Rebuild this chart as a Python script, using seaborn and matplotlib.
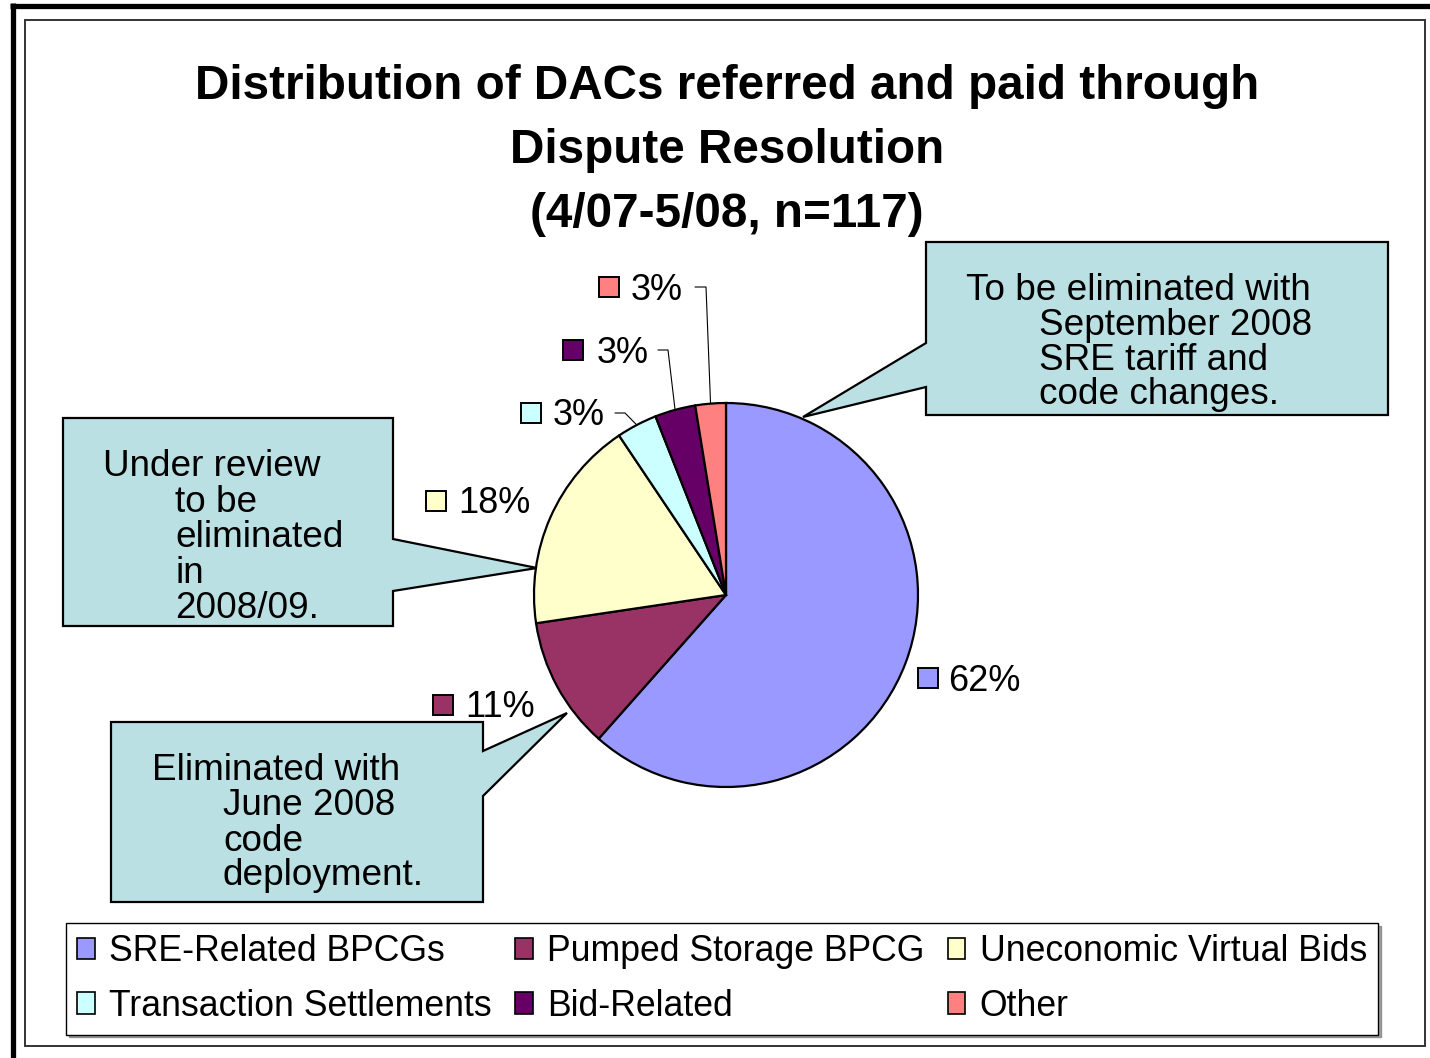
import numpy as np
import matplotlib
matplotlib.use("Agg")
import matplotlib.pyplot as plt
from matplotlib.patches import Polygon, Rectangle, Patch
import seaborn as sns

# data: DACs referred and paid through dispute resolution, n=117
categories = ["SRE-Related BPCGs", "Pumped Storage BPCG", "Uneconomic Virtual Bids",
              "Transaction Settlements", "Bid-Related", "Other"]
counts = [72, 13, 21, 4, 4, 3]
colors = ["#9999FF", "#993366", "#FFFFCC", "#CCFFFF", "#660066", "#FF8080"]

title_lines = ["Distribution of DACs referred and paid through",
               "Dispute Resolution",
               "(4/07-5/08, n=117)"]

# label layout in pixels: square centre x, square centre y, text x, baseline, leader elbow x (None = no leader)
label_layout = [
    (928, 678, 948, 691, None),
    (443, 705, 465, 717, None),
    (436, 501, 458, 513, None),
    (531, 413, 553, 425, (615, 625)),
    (573, 350, 597, 363, (658, 668)),
    (609, 287, 631, 300, (695, 706)),
]

callouts = [
    # polygon outline, text lines (x, baseline, text)
    ([(926, 242), (1388, 242), (1388, 415), (926, 415), (926, 387), (803, 417), (926, 343)],
     [(966, 300, "To be eliminated with"), (1039, 335, "September 2008"),
      (1039, 370, "SRE tariff and"), (1039, 404, "code changes.")]),
    ([(63, 418), (393, 418), (393, 539), (537, 568), (393, 591), (393, 626), (63, 626)],
     [(103, 476, "Under review"), (175, 512, "to be"), (175, 547, "eliminated"),
      (175, 583, "in"), (175, 618, "2008/09.")]),
    ([(111, 722), (483, 722), (483, 751), (567, 713), (483, 796), (483, 902), (111, 902)],
     [(152, 780, "Eliminated with"), (223, 815, "June 2008"),
      (223, 851, "code"), (223, 885, "deployment.")]),
]

sns.set_theme(style="white")
plt.rcParams["font.family"] = ["Liberation Sans", "DejaVu Sans"]
plt.rcParams["text.color"] = "black"

W, H = 1430, 1058
fig = plt.figure(figsize=(W / 100, H / 100), dpi=100)
fig.patch.set_facecolor("white")

# full-figure pixel axes for frame, callouts and labels
ax = fig.add_axes([0, 0, 1, 1])
ax.set_xlim(0, W)
ax.set_ylim(H, 0)
ax.axis("off")

# outer thick border (top/left) and inner thin frame
ax.plot([10, W], [5.5, 5.5], color="black", lw=3.8, solid_capstyle="butt")
ax.plot([12.5, 12.5], [3, H], color="black", lw=3.8, solid_capstyle="butt")
ax.add_patch(Rectangle((25, 20), 1400, 1026, fill=False, edgecolor="#333333", lw=1.4))

for i, line in enumerate(title_lines):
    ax.text(727, 99 + 64 * i, line, ha="center", va="baseline",
            fontsize=34.3, fontweight="bold", color="black")

# pie axes
cx, cy, r = 726, 595, 192
ax_pie = fig.add_axes([(cx - r) / W, (H - cy - r) / H, 2 * r / W, 2 * r / H])
wedges, _ = ax_pie.pie(counts, colors=colors, startangle=90, counterclock=False,
                       wedgeprops=dict(edgecolor="black", linewidth=1.6))
ax_pie.set_xlim(-1, 1)
ax_pie.set_ylim(-1, 1)
ax_pie.axis("off")

# callout boxes
for pts, lines in callouts:
    ax.add_patch(Polygon(pts, closed=True, facecolor="#BBE0E3", edgecolor="black",
                         lw=1.6, joinstyle="miter"))
    for x, y, t in lines:
        ax.text(x, y, t, ha="left", va="baseline", fontsize=26.6, color="black")

# percent labels with colour squares and leaders
total = sum(counts)
for w, val, col, (sx, sy, tx, ty, elbow) in zip(wedges, counts, colors, label_layout):
    ax.add_patch(Rectangle((sx - 10, sy - 10), 20, 20, facecolor=col,
                           edgecolor="black", lw=1.4))
    ax.text(tx, ty, f"{100 * val / total:.0f}%", ha="left", va="baseline",
            fontsize=26, color="black")
    if elbow is not None:
        mid = np.deg2rad((w.theta1 + w.theta2) / 2)
        px = cx + r * np.cos(mid)
        py = cy - r * np.sin(mid)
        ax.plot([elbow[0], elbow[1], px], [sy, sy, py], color="black", lw=0.8)

# legend, row-major order in 3 columns
handles = [Patch(facecolor=c, edgecolor="black", lw=1.2, label=l)
           for c, l in zip(colors, categories)]
order = [0, 3, 1, 4, 2, 5]
leg = fig.legend([handles[i] for i in order], [categories[i] for i in order],
                 ncol=3, loc="center", bbox_to_anchor=(722 / W, 1 - 979 / H),
                 fontsize=25.7, frameon=True, fancybox=False, shadow=True,
                 handlelength=0.5, handleheight=0.55, handletextpad=0.4,
                 columnspacing=0.65, labelspacing=0.55, borderpad=0.3,
                 borderaxespad=0, labelcolor="black")
leg.get_frame().set_edgecolor("black")
leg.get_frame().set_linewidth(1.0)
leg.get_frame().set_alpha(1)

fig.savefig("out.png", dpi=100, facecolor="white")
